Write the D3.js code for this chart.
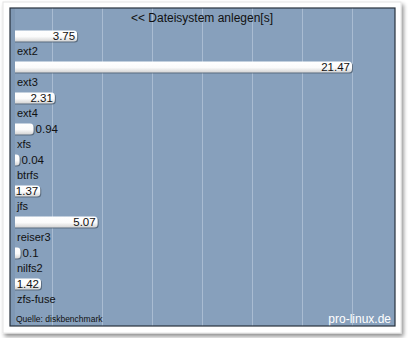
<!DOCTYPE html>
<html>
<head>
<meta charset="utf-8">
<script src="https://cdn.jsdelivr.net/npm/d3@7"></script>
<style>
  html, body { margin: 0; padding: 0; background: #fff; }
  text { font-family: "Liberation Sans", Arial, sans-serif; }
</style>
</head>
<body>
<div class="chart"></div>
<script>
const width = 408;
const height = 338;

// data
const fsNames = ['ext2', 'ext3', 'ext4', 'xfs', 'btrfs', 'jfs', 'reiser3', 'nilfs2', 'zfs-fuse'];
const fsTimes = [3.75, 21.47, 2.31, 0.94, 0.04, 1.37, 5.07, 0.1, 1.42];
const titleText = '<< Dateisystem anlegen[s]';
const sourceText = 'Quelle: diskbenchmark';
const brandText = 'pro-linux.de';

const plot = { left: 10, top: 8, right: 395, bottom: 326 };

const svg = d3.select('div.chart').append('svg')
  .attr('width', width)
  .attr('height', height);

const defs = svg.append('defs');

// soft shadow for the white panel
const shadow = defs.append('filter').attr('id', 'shadow')
  .attr('x', '-5%').attr('y', '-5%').attr('width', '115%').attr('height', '115%');
shadow.append('feGaussianBlur').attr('in', 'SourceAlpha').attr('stdDeviation', 2);
shadow.append('feOffset').attr('dx', 2).attr('dy', 3).attr('result', 'off');
shadow.append('feComponentTransfer').append('feFuncA').attr('type', 'linear').attr('slope', 0.45);
const merge = shadow.append('feMerge');
merge.append('feMergeNode');
merge.append('feMergeNode').attr('in', 'SourceGraphic');

// bar gradient
const grad = defs.append('linearGradient').attr('id', 'barGrad')
  .attr('x1', '0%').attr('y1', '0%').attr('x2', '0%').attr('y2', '100%');
grad.append('stop').attr('offset', '0%').attr('stop-color', '#ffffff');
grad.append('stop').attr('offset', '55%').attr('stop-color', '#fbfbfb');
grad.append('stop').attr('offset', '100%').attr('stop-color', '#d4d4d4');

// panel
svg.append('rect')
  .attr('x', 3).attr('y', 2)
  .attr('width', 398).attr('height', 331)
  .attr('fill', '#fff')
  .attr('stroke', '#e4e4e4')
  .attr('filter', 'url(#shadow)');

// plot background
svg.append('rect')
  .attr('x', plot.left).attr('y', plot.top)
  .attr('width', plot.right - plot.left).attr('height', plot.bottom - plot.top)
  .attr('fill', '#87a0bc');

svg.append('rect')
  .attr('x', plot.left).attr('y', plot.top)
  .attr('width', 5).attr('height', plot.bottom - plot.top)
  .attr('fill', '#7f98b4');

// decorative vertical grid, every 50px
const gridX = d3.range(52, plot.right, 50);
svg.append('g').selectAll('line')
  .data(gridX)
  .enter()
  .append('line')
  .attr('x1', d => d + 0.5).attr('x2', d => d + 0.5)
  .attr('y1', plot.top).attr('y2', plot.bottom)
  .attr('stroke', '#a9bcd2')
  .attr('stroke-width', 1);

// scales
const scaleX = d3.scaleLinear()
  .domain([0, d3.max(fsTimes)])
  .range([19, 352]);

const scaleY = d3.scalePoint()
  .domain(fsNames)
  .range([36, 284]);

const barH = 11;
const barStart = 15;

const rows = svg.append('g').selectAll('g')
  .data(fsNames.map((name, i) => ({ name, value: fsTimes[i] })))
  .enter()
  .append('g');

// clip so bars start flat at the plot edge
defs.append('clipPath').attr('id', 'barClip')
  .append('rect')
  .attr('x', barStart).attr('y', plot.top)
  .attr('width', plot.right - barStart).attr('height', plot.bottom - plot.top);

const bars = rows.append('g').attr('clip-path', 'url(#barClip)');

// bar shadow
bars.append('rect')
  .attr('x', barStart - 6)
  .attr('y', d => scaleY(d.name) - barH / 2 + 1)
  .attr('width', d => scaleX(d.value) - barStart + 7)
  .attr('height', barH)
  .attr('rx', 3.5)
  .attr('fill', '#4f5f71')
  .attr('opacity', 0.8);

bars.append('rect')
  .attr('x', barStart - 6)
  .attr('y', d => scaleY(d.name) - barH / 2)
  .attr('width', d => scaleX(d.value) - barStart + 6)
  .attr('height', barH)
  .attr('rx', 3.5)
  .attr('fill', 'url(#barGrad)');

// values: inside the bar if they fit, else to the right
rows.append('text')
  .attr('y', d => scaleY(d.name) + 4)
  .attr('font-size', 11.5)
  .attr('fill', '#111')
  .text(d => d.value)
  .each(function (d) {
    const w = this.getComputedTextLength();
    const end = scaleX(d.value);
    if (end - barStart >= w) {
      d3.select(this).attr('x', end - 2).attr('text-anchor', 'end');
    } else {
      d3.select(this).attr('x', end + 2).attr('text-anchor', 'start');
    }
  });

// category names
rows.append('text')
  .attr('x', 17)
  .attr('y', d => scaleY(d.name) + 19)
  .attr('font-size', 11)
  .attr('fill', '#111')
  .text(d => d.name);

// title
svg.append('text')
  .attr('x', 202)
  .attr('y', 22)
  .attr('text-anchor', 'middle')
  .attr('font-size', 12)
  .attr('fill', '#111')
  .text(titleText);

// footer
svg.append('text')
  .attr('x', 16)
  .attr('y', 322)
  .attr('font-size', 8.5)
  .attr('fill', '#111')
  .text(sourceText);

svg.append('text')
  .attr('x', 391)
  .attr('y', 323)
  .attr('text-anchor', 'end')
  .attr('font-size', 12)
  .attr('fill', '#fff')
  .text(brandText);

// plot border
svg.append('rect')
  .attr('x', plot.left).attr('y', plot.top)
  .attr('width', plot.right - plot.left).attr('height', plot.bottom - plot.top)
  .attr('fill', 'none')
  .attr('stroke', '#27313c')
  .attr('stroke-width', 1.2);
</script>
</body>
</html>
